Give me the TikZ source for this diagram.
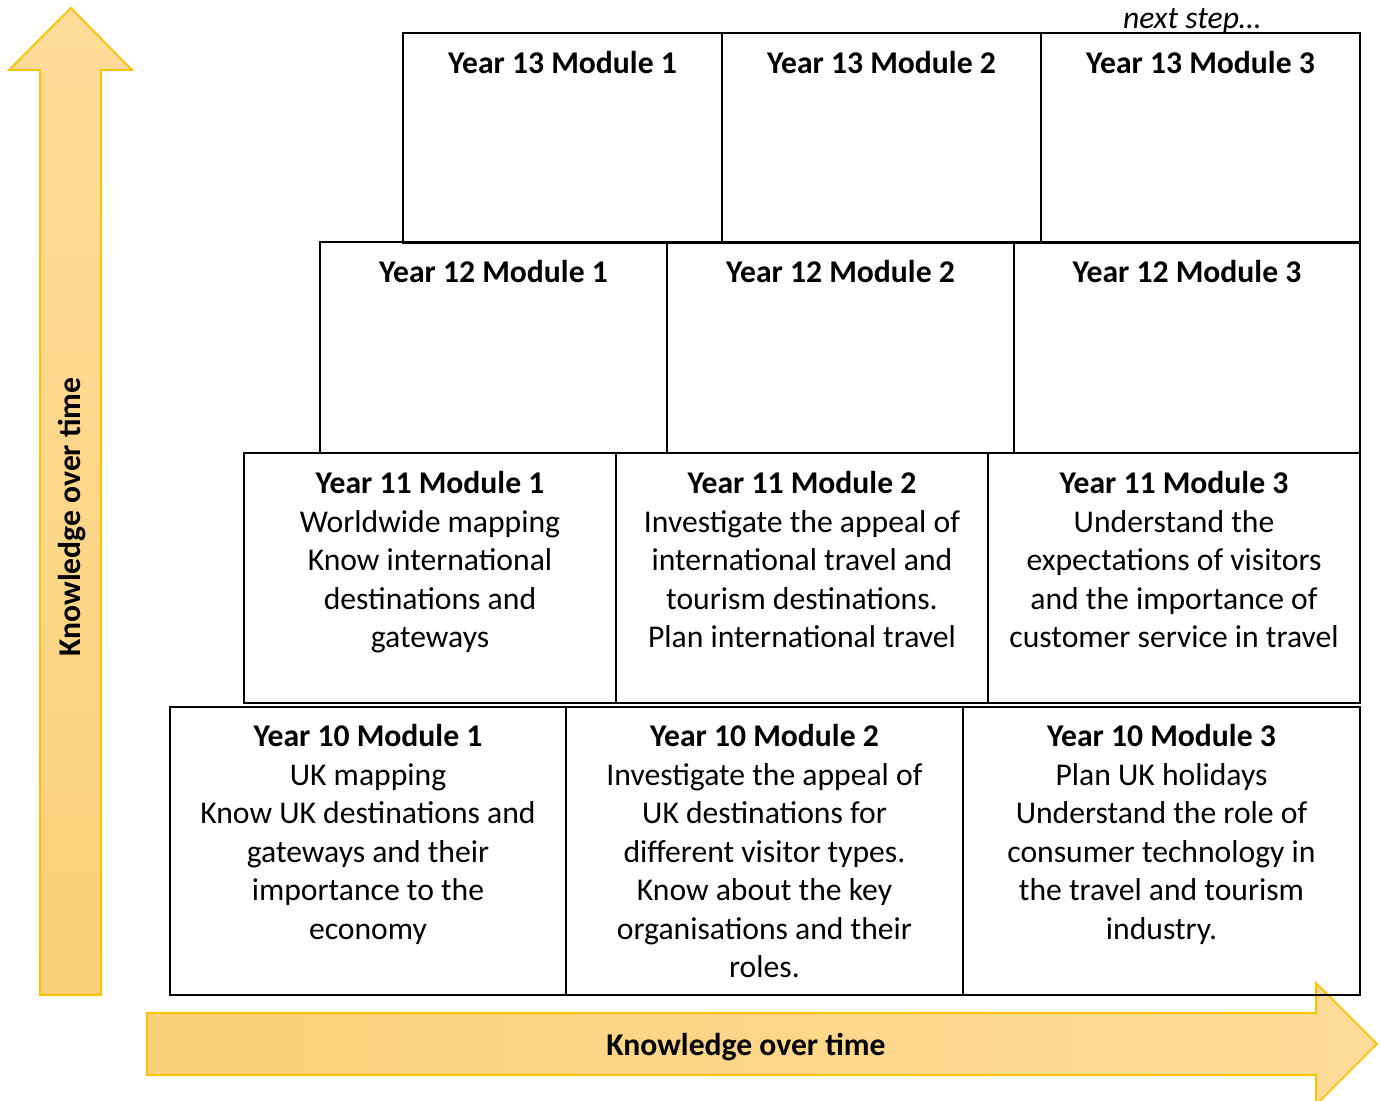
\documentclass[tikz,border=0pt]{standalone}
\usepackage{fontspec}
\setmainfont{Carlito}
\usepackage{tikz}

\definecolor{arrowline}{RGB}{255,192,0}
\definecolor{arrowdark}{RGB}{252,208,122}
\definecolor{arrowlight}{RGB}{253,220,152}

\tikzset{
	box/.style={draw=black, line width=0.75pt},
	txt/.style={anchor=north, align=center, inner sep=0pt, font=\fontsize{9}{10.95}\selectfont},
	bigarrow/.style={draw=arrowline, line width=0.5pt},
}

\begin{document}
\begin{tikzpicture}[x=0.01cm, y=-0.01cm]
	\useasboundingbox (0,0) rectangle (1381,1101);

	% arrows
	\path[bigarrow, top color=arrowlight, bottom color=arrowdark]
		(40,995) -- (40,70) -- (9,70) -- (71,8) -- (132,70) -- (101,70) -- (101,995) -- cycle;
	\path[bigarrow, left color=arrowdark, right color=arrowlight]
		(147,1013) -- (1316,1013) -- (1316,983) -- (1377,1044) -- (1316,1105) -- (1316,1075) -- (147,1075) -- cycle;
	\node[font=\fontsize{9}{10.95}\selectfont\bfseries, rotate=90] (upl) at (72,517) {Knowledge over time};
	\node[font=\fontsize{9}{10.95}\selectfont\bfseries] (rightl) at (746,1047) {Knowledge over time};

	% year 13
	\draw[box] (403,33) rectangle (722,243);
	\draw[box] (722,33) rectangle (1041,243);
	\draw[box] (1041,33) rectangle (1360,243);
	\node[txt] (y13a) at (562.5,51) {\textbf{Year 13 Module 1}};
	\node[txt] (y13b) at (881.5,51) {\textbf{Year 13 Module 2}};
	\node[txt] (y13c) at (1200.5,51) {\textbf{Year 13 Module 3}};
	\node[txt, font=\fontsize{9}{10.95}\selectfont\itshape] (next) at (1192,8) {next step…};

	% year 12
	\draw[box] (320,242) rectangle (667,453);
	\draw[box] (667,242) rectangle (1014,453);
	\draw[box] (1014,242) rectangle (1360,453);
	\node[txt] (y12a) at (493.5,260) {\textbf{Year 12 Module 1}};
	\node[txt] (y12b) at (840.5,260) {\textbf{Year 12 Module 2}};
	\node[txt] (y12c) at (1187,260) {\textbf{Year 12 Module 3}};

	% year 11
	\draw[box] (244,453) rectangle (616,703);
	\draw[box] (616,453) rectangle (988,703);
	\draw[box] (988,453) rectangle (1360,703);
	\node[txt] (y11a) at (430,471) {\textbf{Year 11 Module 1}\\Worldwide mapping\\Know international\\destinations and\\gateways};
	\node[txt] (y11b) at (802,471) {\textbf{Year 11 Module 2}\\Investigate the appeal of\\international travel and\\tourism destinations.\\Plan international travel};
	\node[txt] (y11c) at (1174,471) {\textbf{Year 11 Module 3}\\Understand the\\expectations of visitors\\and the importance of\\customer service in travel};

	% year 10
	\draw[box] (170,707) rectangle (566,995);
	\draw[box] (566,707) rectangle (963,995);
	\draw[box] (963,707) rectangle (1360,995);
	\node[txt] (y10a) at (368,724) {\textbf{Year 10 Module 1}\\UK mapping\\Know UK destinations and\\gateways and their\\importance to the\\economy};
	\node[txt] (y10b) at (764.5,724) {\textbf{Year 10 Module 2}\\Investigate the appeal of\\UK destinations for\\different visitor types.\\Know about the key\\organisations and their\\roles.};
	\node[txt] (y10c) at (1161.5,724) {\textbf{Year 10 Module 3}\\Plan UK holidays\\Understand the role of\\consumer technology in\\the travel and tourism\\industry.};
\end{tikzpicture}
\end{document}
